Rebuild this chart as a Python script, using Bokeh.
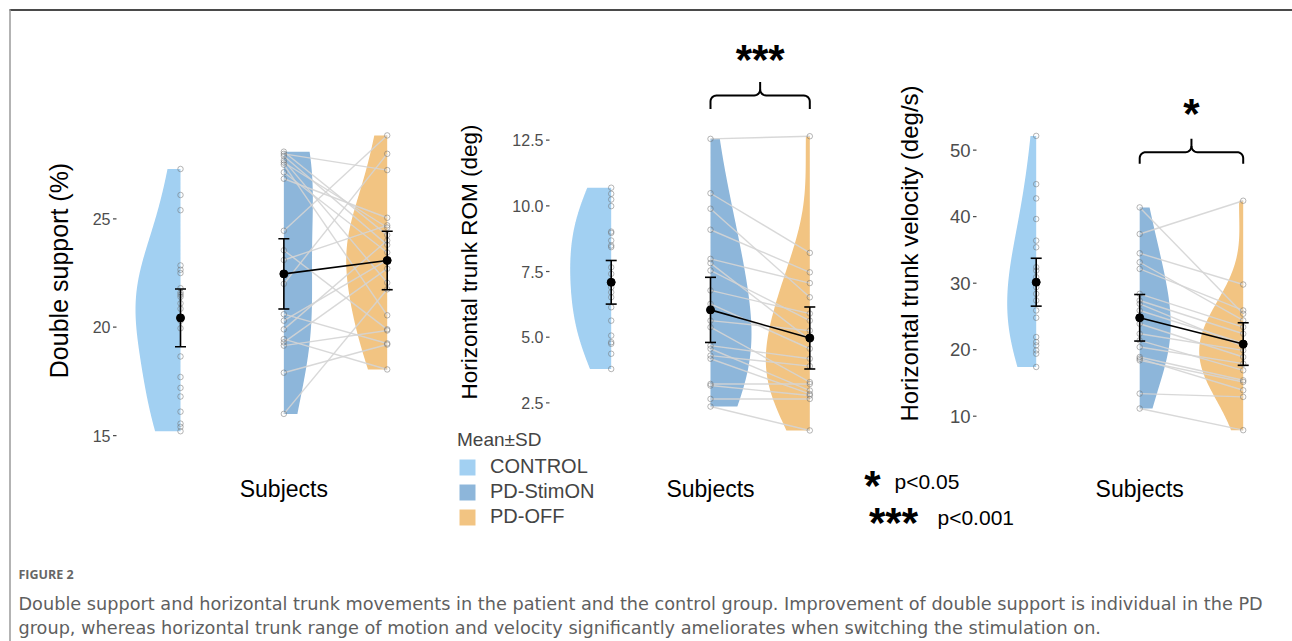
import numpy as np
from bokeh.plotting import figure
from bokeh.models import Range1d, ColumnDataSource, Legend, LegendItem
from bokeh.core.properties import value
from bokeh.embed import file_html
from bokeh.resources import INLINE

# ---------------- data ----------------
groups = ["CONTROL", "PD-StimON", "PD-OFF"]

# Panel 1: Double support (%)
ds_control = [27.3, 26.1, 25.4, 22.85, 22.65, 22.5, 21.8, 21.6, 21.5, 21.4, 21.1,
              20.85, 20.3, 19.95, 18.65, 17.7, 17.2, 16.8, 16.1, 15.55, 15.4, 15.2]
ds_stim_on = [28.1, 28.0, 27.9, 27.7, 27.6, 27.5, 27.15, 26.85, 24.45, 23.55,
              23.1, 22.0, 20.6, 20.3, 19.9, 19.45, 19.3, 19.15, 17.9, 16.0]
ds_off = [24.25, 27.25, 23.8, 22.05, 24.6, 20.55, 23.45, 25.05, 28.85, 19.9,
          24.7, 28.0, 19.25, 23.1, 24.0, 18.05, 22.7, 19.85, 19.2, 21.75]
ds_mean = [20.43, 22.46, 23.08]
ds_sd = [1.33, 1.62, 1.35]
ds_ticks = [15, 20, 25]
ds_tick_labels = ["15", "20", "25"]

# Panel 2: Horizontal trunk ROM (deg)
rom_control = [10.69, 10.46, 10.24, 9.99, 9.02, 8.97, 8.68, 8.49, 8.43, 7.66, 7.41,
               6.90, 6.71, 6.52, 6.14, 5.63, 5.06, 4.81, 4.75, 4.37, 3.79]
rom_stim_on = [12.55, 10.48, 9.89, 9.09, 7.98, 7.82, 7.54, 6.78, 6.27, 5.63,
               5.38, 4.68, 4.56, 4.30, 4.18, 3.22, 3.16, 2.65, 2.36]
rom_off = [12.65, 8.21, 6.52, 7.47, 7.06, 4.9, 5.63, 5.9, 4.56, 5.25,
           3.29, 4.18, 2.97, 3.9, 2.84, 3.22, 2.78, 2.65, 1.45]
rom_mean = [7.09, 6.04, 4.97]
rom_sd = [0.83, 1.24, 1.18]
rom_ticks = [2.5, 5.0, 7.5, 10.0, 12.5]
rom_tick_labels = ["2.5", "5.0", "7.5", "10.0", "12.5"]

# Panel 3: Horizontal trunk velocity (deg/s)
vel_control = [52.15, 44.9, 42.75, 39.65, 36.4, 35.4, 32.4, 31.9, 30.9, 29.4,
               28.4, 27.4, 25.9, 24.8, 21.9, 21.15, 20.65, 19.9, 19.4, 17.4]
vel_stim_on = [41.4, 37.4, 34.5, 33.15, 32.15, 28.4, 27.4, 26.9, 25.9, 23.9,
               22.4, 21.4, 20.4, 18.9, 18.65, 18.4, 13.4, 11.15]
vel_off = [25.4, 42.4, 29.8, 24.4, 25.9, 23.4, 22.4, 20.5, 21.0, 18.9,
           19.9, 16.9, 17.9, 15.4, 13.9, 15.15, 12.9, 7.9]
vel_mean = [30.15, 24.8, 20.85]
vel_sd = [3.6, 3.5, 3.2]
vel_ticks = [10, 20, 30, 40, 50]
vel_tick_labels = ["10", "20", "30", "40", "50"]

y_titles = ["Double support (%)", "Horizontal trunk ROM (deg)", "Horizontal trunk velocity (deg/s)"]
x_title = "Subjects"
sig_marks = ["", "***", "*"]
p_key_marks = ["*", "***"]
p_key_labels = ["p<0.05", "p<0.001"]
legend_title = "Mean±SD"
caption_head = "FIGURE 2"
caption_lines = [
    "Double support and horizontal trunk movements in the patient and the control group. Improvement of double support is individual in the PD",
    "group, whereas horizontal trunk range of motion and velocity significantly ameliorates when switching the stimulation on.",
]

# ---------------- style / layout ----------------
W, H = 1292, 641
FONT = "Liberation Sans"
colors = ["#a2d0f2", "#8db6da", "#f2c482"]
STAR_DY = 4
BW_ADJUST = 1.5

panels = [
    dict(ctrl=ds_control, on=ds_stim_on, off=ds_off, mean=ds_mean, sd=ds_sd,
         ticks=ds_ticks, tlabels=ds_tick_labels, title=y_titles[0], sig=sig_marks[0],
         g0=180.0, unit=103.35, vref=20.0, yref=326.7, ppu=21.67,
         tick_x=110, tick_fs="16px", title_xy=(58.5, 270), title_fs="25px",
         vw=[45, 29, 41], brace=None),
    dict(ctrl=rom_control, on=rom_stim_on, off=rom_off, mean=rom_mean, sd=rom_sd,
         ticks=rom_ticks, tlabels=rom_tick_labels, title=y_titles[1], sig=sig_marks[1],
         g0=610.7, unit=99.3, vref=5.0, yref=336.7, ppu=26.27,
         tick_x=543, tick_fs="16px", title_xy=(469, 261.5), title_fs="22.5px",
         vw=[41, 41, 44], brace=(13.69, 14.20, 14.71, 15.71)),
    dict(ctrl=vel_control, on=vel_stim_on, off=vel_off, mean=vel_mean, sd=vel_sd,
         ticks=vel_ticks, tlabels=vel_tick_labels, title=y_titles[2], sig=sig_marks[2],
         g0=1035.7, unit=103.5, vref=30.0, yref=282.7, ppu=6.65,
         tick_x=970, tick_fs="18.5px", title_xy=(909, 253), title_fs="24px",
         vw=[29, 31, 44], brace=(47.95, 49.7, 51.71, 56.1)),
]

p = figure(width=W, height=H, x_range=Range1d(0, W), y_range=Range1d(H, 0),
           x_axis_type=None, y_axis_type=None, output_backend="svg",
           toolbar_location=None, min_border=0, outline_line_color=None,
           background_fill_color="white", border_fill_color="white")
p.grid.grid_line_color = None


def half_violin(vals):
    v = np.asarray(vals, dtype=float)
    n = len(v)
    sd = v.std(ddof=1)
    q75, q25 = np.percentile(v, [75, 25])
    bw = BW_ADJUST * 0.9 * min(sd, (q75 - q25) / 1.34) * n ** -0.2
    ys = np.linspace(v.min(), v.max(), 200)
    dens = np.exp(-0.5 * ((ys[:, None] - v[None, :]) / bw) ** 2).sum(axis=1)
    return ys, dens / dens.max()


legend_renderer = None
for k, pn in enumerate(panels):
    xr, yr = f"x{k}", f"y{k}"
    xs = -pn["g0"] / pn["unit"]
    p.extra_x_ranges[xr] = Range1d(xs, xs + W / pn["unit"])
    top = pn["vref"] + pn["yref"] / pn["ppu"]
    bot = pn["vref"] - (H - pn["yref"]) / pn["ppu"]
    p.extra_y_ranges[yr] = Range1d(bot, top)

    series = [pn["ctrl"], pn["on"], pn["off"]]
    sides = [-1, 1, -1]
    vx, vy = [], []
    for g, (vals, side, wpx) in enumerate(zip(series, sides, pn["vw"])):
        ys, d = half_violin(vals)
        wu = wpx / pn["unit"]
        vx.append(np.concatenate([[g], g + side * d * wu, [g]]))
        vy.append(np.concatenate([[ys[0]], ys, [ys[-1]]]))
    vsrc = ColumnDataSource(dict(xs=vx, ys=vy, color=colors, label=groups))
    r = p.patches("xs", "ys", source=vsrc, fill_color="color", fill_alpha=1.0,
                  line_color=None, x_range_name=xr, y_range_name=yr)
    if k == 0:
        legend_renderer = r

    # paired lines
    n = len(pn["on"])
    p.segment(x0=[1] * n, y0=pn["on"], x1=[2] * n, y1=pn["off"], line_color="#d4d4d4",
              line_alpha=0.9, line_width=1.4, x_range_name=xr, y_range_name=yr)

    # points
    for g, vals in enumerate(series):
        p.scatter(x=[g] * len(vals), y=vals, size=5.5, fill_color=None,
                  line_color="#6e6e6e", line_alpha=0.5, line_width=1,
                  x_range_name=xr, y_range_name=yr)

    # mean ± SD
    gx = [0, 1, 2]
    lo = [m - s for m, s in zip(pn["mean"], pn["sd"])]
    hi = [m + s for m, s in zip(pn["mean"], pn["sd"])]
    cap = 5.5 / pn["unit"]
    p.segment(x0=[1], y0=[pn["mean"][1]], x1=[2], y1=[pn["mean"][2]], line_color="black",
              line_width=1.6, x_range_name=xr, y_range_name=yr)
    p.segment(x0=gx, y0=lo, x1=gx, y1=hi, line_color="black", line_width=1.6,
              x_range_name=xr, y_range_name=yr)
    for yy in (lo, hi):
        p.segment(x0=[g - cap for g in gx], y0=yy, x1=[g + cap for g in gx], y1=yy,
                  line_color="black", line_width=1.6, x_range_name=xr, y_range_name=yr)
    p.scatter(x=gx, y=pn["mean"], size=8, fill_color="black", line_color="black",
              x_range_name=xr, y_range_name=yr)

    # y ticks (no axis line, like ggplot minimal)
    nt = len(pn["ticks"])
    p.text(x=[pn["tick_x"]] * nt, y=pn["ticks"], text=pn["tlabels"], text_align="right",
           text_baseline="middle", text_font=value(FONT), text_font_size=pn["tick_fs"],
           text_color="#4d4d4d", y_range_name=yr)
    p.segment(x0=[pn["tick_x"] + 2.5] * nt, y0=pn["ticks"], x1=[pn["tick_x"] + 6] * nt,
              y1=pn["ticks"], line_color="#4d4d4d", line_width=1.2, y_range_name=yr)

    # y title
    tx, ty = pn["title_xy"]
    p.text(x=[tx], y=[ty], text=[pn["title"]], angle=np.pi / 2, text_align="center",
           text_baseline="middle", text_font=value(FONT), text_font_size=pn["title_fs"],
           text_color="black")

    # x title
    p.text(x=[1], y=[488], text=[x_title], text_align="center", text_baseline="middle",
           text_font=value(FONT), text_font_size="23px", text_color="black",
           x_range_name=xr)

    # significance brace
    if pn["brace"] is not None:
        y_leg, y_line, y_top, y_star = pn["brace"]
        rx, ry = 6 / pn["unit"], 6 / pn["ppu"]
        xl, xrt, xm = 1.0, 2.0, 1.5
        t = np.linspace(0, np.pi / 2, 8)
        ax1 = xl + rx - rx * np.cos(t); ay1 = y_line - ry + ry * np.sin(t)
        ax2 = xm - rx + rx * np.sin(t); ay2 = y_line + ry - ry * np.cos(t)
        path1x = np.concatenate([[xl], ax1, ax2, [xm]])
        path1y = np.concatenate([[y_leg], ay1, ay2, [y_top]])
        bx1 = xm + rx - rx * np.cos(t); by1 = y_line + ry - ry * np.sin(t)
        bx2 = xrt - rx + rx * np.sin(t); by2 = y_line - ry + ry * np.cos(t)
        path2x = np.concatenate([[xm], bx1, bx2, [xrt]])
        path2y = np.concatenate([[y_line + ry], by1, by2, [y_leg]])
        p.multi_line(xs=[path1x, path2x], ys=[path1y, path2y], line_color="black",
                     line_width=2, x_range_name=xr, y_range_name=yr)
        p.text(x=[xm], y=[y_star], text=[pn["sig"]], text_align="center",
               text_baseline="alphabetic", y_offset=STAR_DY, text_font=value(FONT),
               text_font_size="42px", text_font_style="bold", text_color="black",
               x_range_name=xr, y_range_name=yr)

# legend
legend = Legend(items=[LegendItem(label=groups[i], renderers=[legend_renderer], index=i)
                       for i in range(3)],
                location=(457, 113), title=legend_title, title_text_font=FONT,
                title_text_font_size="19px", title_text_font_style="normal",
                title_standoff=4, label_text_font=FONT, label_text_font_size="20px",
                glyph_width=20, glyph_height=20, label_height=20, label_standoff=13,
                spacing=2, padding=0, margin=0, border_line_color=None,
                background_fill_alpha=0)
p.add_layout(legend)

# p-value key
p.text(x=[872, 893], y=[481, 518], text=p_key_marks, text_align="center",
       text_baseline="alphabetic", y_offset=STAR_DY, text_font=value(FONT),
       text_font_size="42px", text_font_style="bold", text_color="black")
p.text(x=[894, 937], y=[481, 517], text=p_key_labels, text_align="left",
       text_baseline="middle", text_font=value(FONT), text_font_size="21px",
       text_color="black")

# figure frame (top & left rule) and caption
p.line(x=[9, W], y=[9.5, 9.5], line_color="#4a4a4a", line_width=2)
p.line(x=[9.5, 9.5], y=[9, H], line_color="#9a9a9a", line_width=1.5)
p.text(x=[18], y=[574], text=[caption_head], text_baseline="middle",
       text_font=value("Open Sans"), text_font_size="12.5px", text_font_style="bold",
       text_color="#666666")
p.text(x=[18, 18], y=[603, 627], text=caption_lines, text_baseline="middle",
       text_font=value("DejaVu Sans"), text_font_size="17.7px", text_color="#5f5f5f")

open("out.html", "w").write(file_html(p, INLINE, "Figure 2"))
